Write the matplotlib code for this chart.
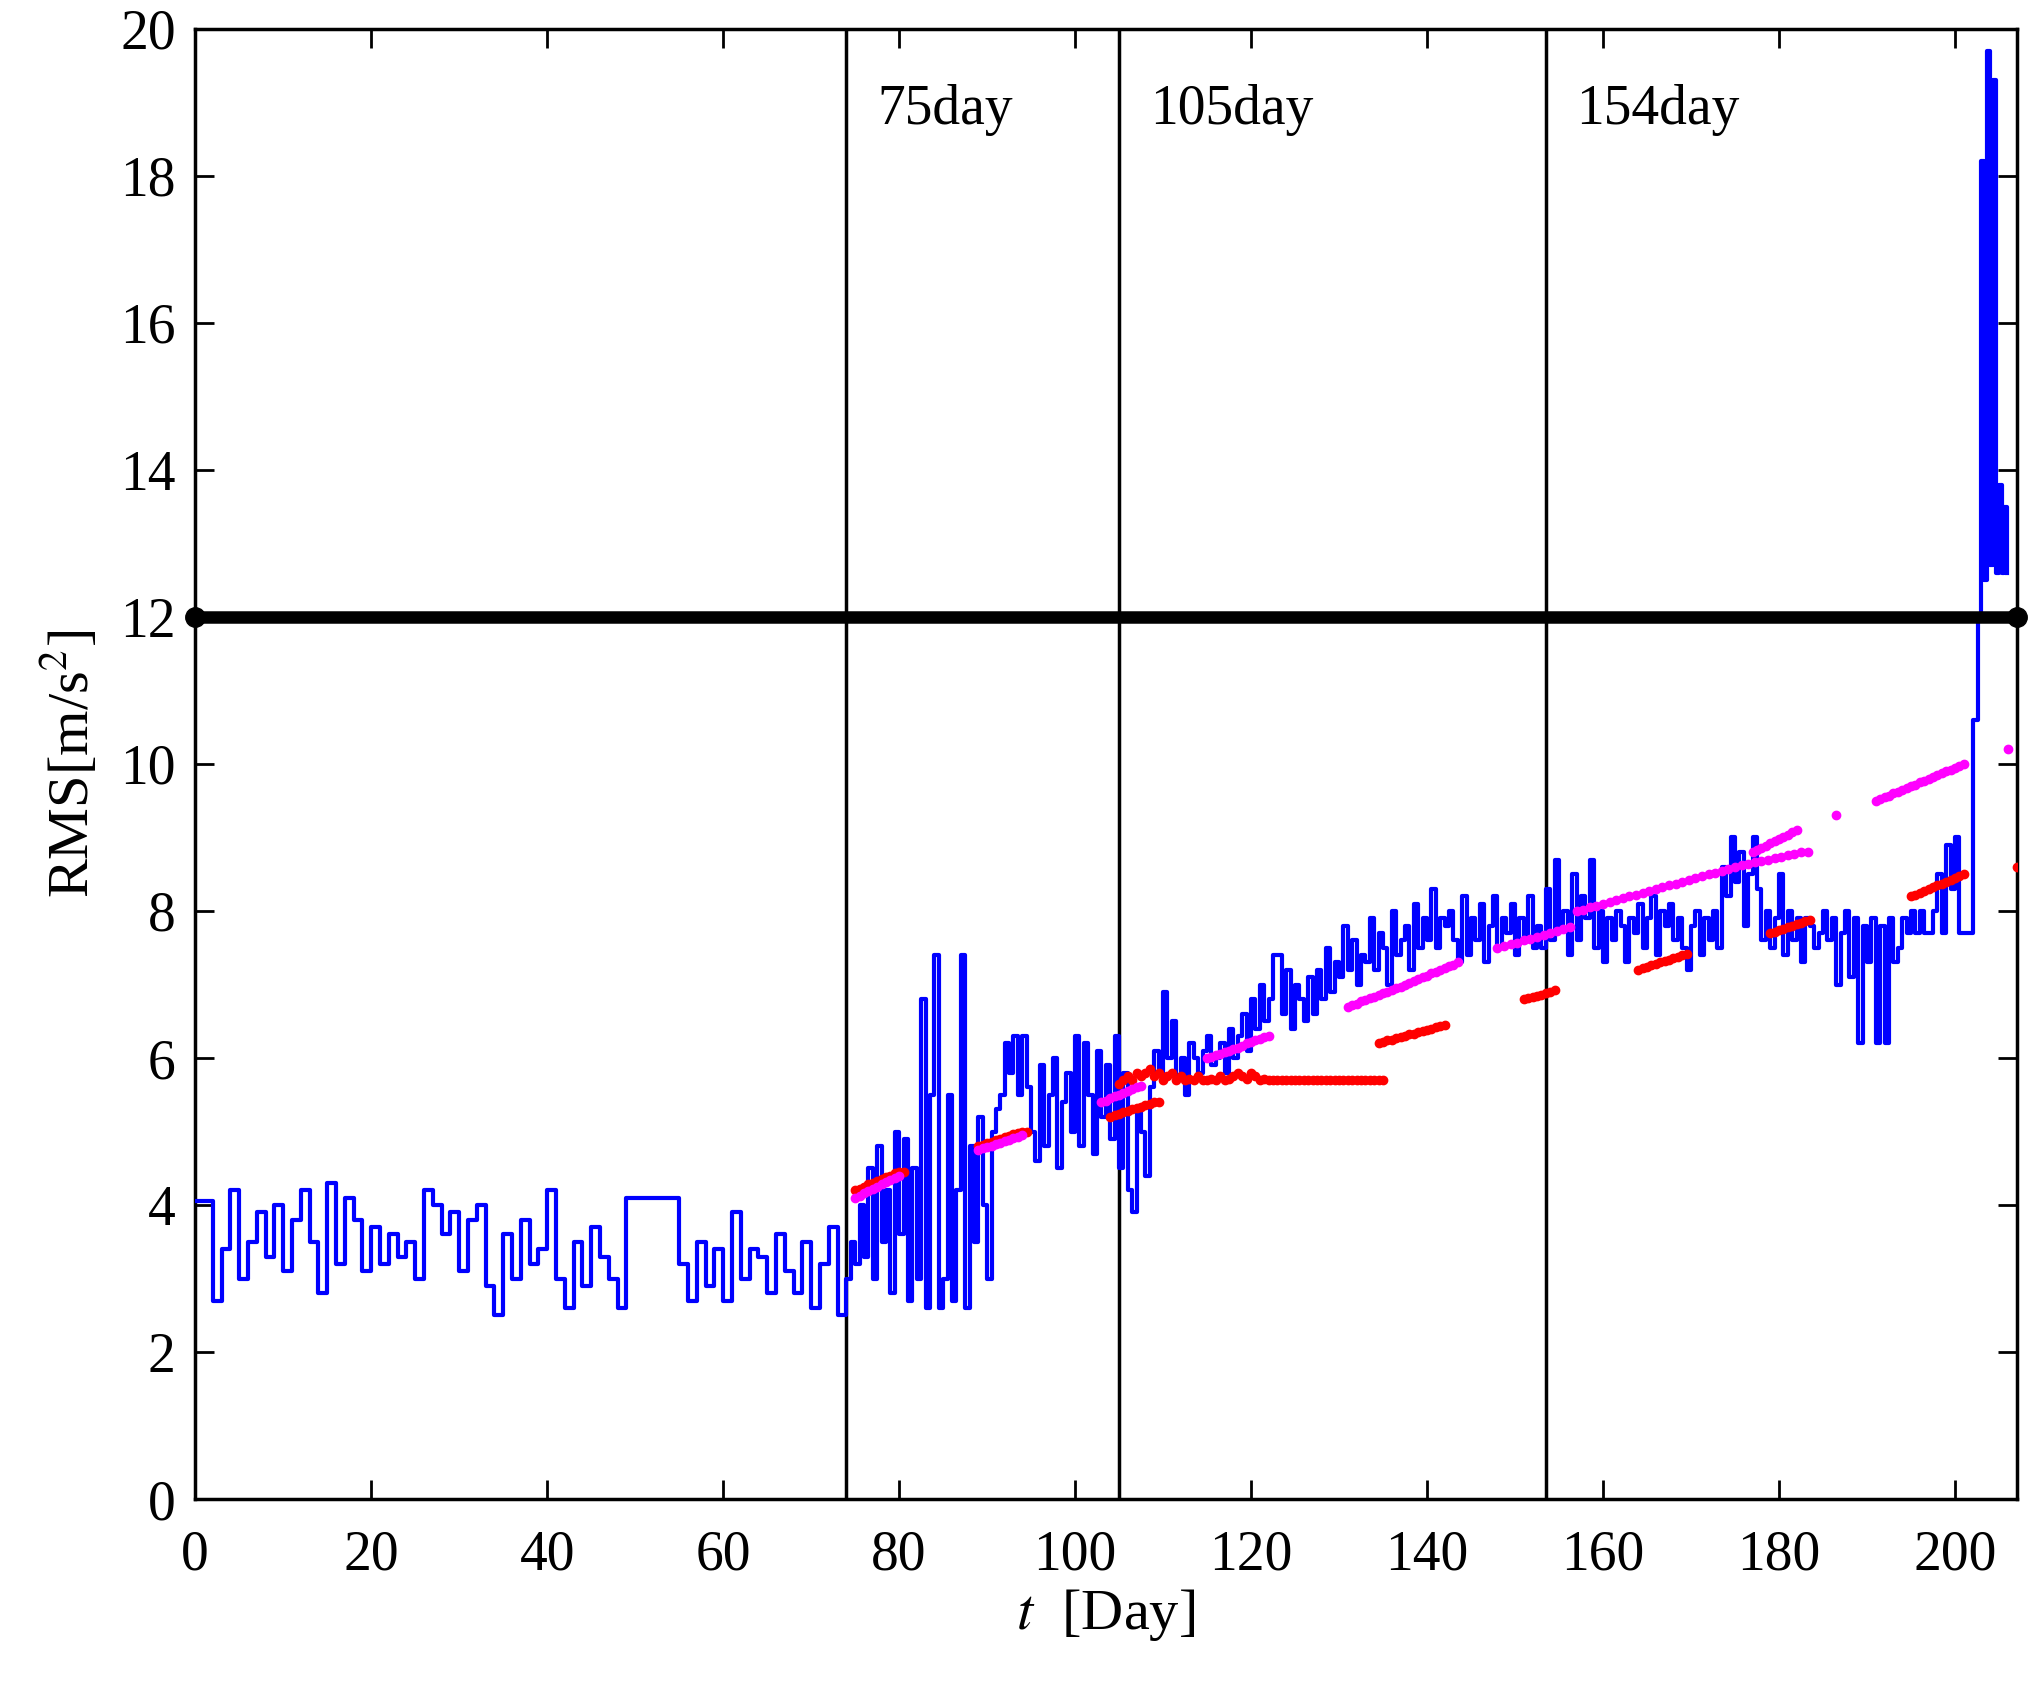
import matplotlib.pyplot as plt
import numpy as np

plt.rcParams['font.family'] = 'Liberation Serif'
plt.rcParams['mathtext.fontset'] = 'stix'

# blue RMS trace, stored as (start day, step, values)
blue_segments = [
    (0.0, 1.0, [4.05, 4.05, 2.7, 3.4, 4.2, 3.0, 3.5, 3.9, 3.3, 4.0, 3.1, 3.8, 4.2, 3.5, 2.8, 4.3,
                3.2, 4.1, 3.8, 3.1, 3.7, 3.2, 3.6, 3.3, 3.5, 3.0, 4.2, 4.0, 3.6, 3.9, 3.1, 3.8,
                4.0, 2.9, 2.5, 3.6, 3.0, 3.8, 3.2, 3.4, 4.2, 3.0, 2.6, 3.5, 2.9, 3.7, 3.3, 3.0,
                2.6, 4.1, 4.1, 4.1, 4.1, 4.1, 4.1, 3.2, 2.7, 3.5, 2.9, 3.4, 2.7, 3.9, 3.0, 3.4,
                3.3, 2.8, 3.6, 3.1, 2.8, 3.5, 2.6, 3.2, 3.7, 2.5]),
    (74.0, 0.5, [3.0, 3.5, 3.2, 4.0, 3.3, 4.5, 3.0, 4.8, 3.5, 4.2, 2.8, 5.0, 3.6, 4.9, 2.7, 4.5,
                 3.0, 6.8, 2.6, 5.5, 7.4, 2.6, 3.0, 5.5, 2.7, 4.2, 7.4, 2.6, 4.8, 3.5, 5.2, 4.0,
                 3.0, 5.0, 5.3, 5.5, 6.2, 5.8, 6.3, 5.5, 6.3, 5.6, 5.0, 4.6, 5.9, 4.8, 5.5, 6.0,
                 4.5, 5.4, 5.8, 5.0, 6.3, 4.8, 6.2, 5.5, 4.7, 6.1, 5.2, 5.9, 4.9, 6.3]),
    (105.0, 0.5, [4.5, 5.8, 4.2, 3.9, 5.3, 5.0, 4.4, 5.6, 6.1, 5.8, 6.9, 6.0, 6.5, 5.7, 6.0, 5.5,
                  6.2, 6.0, 5.8, 6.1, 6.3, 5.9, 6.0, 6.2, 5.8, 6.4, 6.0, 6.3, 6.6, 6.1, 6.8, 6.4,
                  7.0, 6.5, 6.8, 7.4, 7.4, 6.6, 7.2, 6.4, 7.0, 6.8, 6.5, 7.1, 6.6, 7.2, 6.8, 7.5,
                  6.9, 7.3, 7.1, 7.8, 7.2, 7.6, 7.0, 7.4, 7.3, 7.9, 7.2, 7.7, 7.5, 7.0, 8.0, 7.4,
                  7.6, 7.8, 7.2, 8.1, 7.5, 7.9, 7.6, 8.3, 7.5, 7.9, 7.8, 8.0, 7.6, 7.3, 8.2, 7.4,
                  7.9, 7.6, 8.1, 7.3, 7.8, 8.2, 7.5, 7.9, 7.7, 8.1, 7.4, 7.9, 7.6, 8.2, 7.5, 7.8]),
    (153.0, 0.5, [7.5, 8.3, 7.6, 8.7, 7.8, 8.0, 7.4, 8.5, 7.6, 8.2, 7.9, 8.7, 7.5, 8.0, 7.3, 7.9,
                  7.6, 8.0, 7.8, 7.3, 7.9, 7.7, 8.1, 7.5, 7.9, 8.2, 7.4, 8.0, 7.8, 8.1, 7.6, 7.9,
                  7.5, 7.2, 7.8, 8.0, 7.4, 7.9, 7.6, 8.0, 7.5, 8.6, 8.2, 9.0, 8.4, 8.8, 7.8, 8.5,
                  9.0, 8.3, 7.6, 8.0, 7.5, 7.9, 8.5, 7.4, 8.0, 7.6, 7.9, 7.3, 7.9, 7.8, 7.5, 7.7,
                  8.0, 7.6, 7.9, 7.0, 7.7, 8.0, 7.1, 7.9, 6.2, 7.8, 7.3, 7.9, 6.2, 7.8, 6.2, 7.9,
                  7.3, 7.5, 7.9, 7.7, 8.0, 7.7, 8.0, 7.7, 7.7, 8.0, 8.5, 7.7, 8.9, 8.3, 9.0, 7.7,
                  7.7, 7.7]),
    (202.0, 0.33, [10.6, 10.6, 12.0, 18.2, 12.5, 19.7, 12.7, 19.3, 12.6, 13.8, 12.6, 13.5, 12.6]),
]

red_segments = [
    (75.0, 0.5, [4.2, 4.22, 4.25, 4.28, 4.3, 4.33, 4.36, 4.38, 4.4, 4.43, 4.45, 4.45]),
    (89.0, 0.5, [4.8, 4.82, 4.84, 4.86, 4.88, 4.9, 4.92, 4.94, 4.96, 4.98, 5.0, 5.0]),
    (104.0, 0.5, [5.2, 5.22, 5.24, 5.26, 5.28, 5.3, 5.32, 5.34, 5.36, 5.38, 5.4, 5.4]),
    (105.0, 0.5, [5.65, 5.7, 5.75, 5.7, 5.8, 5.75, 5.8, 5.85, 5.75, 5.8, 5.7, 5.75, 5.8, 5.7,
                  5.75, 5.7, 5.72, 5.7, 5.75, 5.7]),
    (115.0, 0.5, [5.7, 5.72, 5.7, 5.75, 5.7, 5.72, 5.75, 5.8, 5.75, 5.72, 5.8, 5.75, 5.7, 5.72,
                  5.7, 5.7, 5.7, 5.7, 5.7, 5.7, 5.7, 5.7, 5.7, 5.7, 5.7, 5.7, 5.7, 5.7, 5.7, 5.7,
                  5.7, 5.7, 5.7, 5.7, 5.7, 5.7, 5.7, 5.7, 5.7, 5.7, 5.7]),
    (134.5, 0.5, [6.2, 6.22, 6.24, 6.25, 6.27, 6.29, 6.3, 6.32, 6.33, 6.35, 6.37, 6.38, 6.4,
                  6.42, 6.43, 6.45]),
    (151.0, 0.5, [6.8, 6.82, 6.83, 6.85, 6.86, 6.88, 6.9, 6.92]),
    (164.0, 0.5, [7.2, 7.22, 7.24, 7.26, 7.28, 7.3, 7.32, 7.34, 7.36, 7.38, 7.4, 7.42]),
    (179.0, 0.5, [7.7, 7.72, 7.74, 7.76, 7.78, 7.8, 7.82, 7.84, 7.86, 7.88]),
    (195.0, 0.5, [8.2, 8.22, 8.25, 8.27, 8.3, 8.32, 8.35, 8.37, 8.4, 8.42, 8.45, 8.47, 8.5]),
    (207.0, 0.5, [8.6]),
]

magenta_segments = [
    (75.0, 0.5, [4.1, 4.13, 4.16, 4.19, 4.22, 4.25, 4.28, 4.31, 4.34, 4.37, 4.4]),
    (89.0, 0.5, [4.75, 4.77, 4.79, 4.81, 4.83, 4.85, 4.87, 4.89, 4.91, 4.93, 4.95]),
    (103.0, 0.5, [5.4, 5.42, 5.45, 5.48, 5.5, 5.53, 5.55, 5.58, 5.6, 5.62]),
    (115.0, 0.5, [6.0, 6.02, 6.04, 6.06, 6.08, 6.1, 6.12, 6.14, 6.17, 6.2, 6.22, 6.24, 6.26,
                  6.28, 6.3]),
    (131.0, 0.5, [6.7, 6.72, 6.74, 6.77, 6.79, 6.81, 6.83, 6.86, 6.88, 6.9, 6.92, 6.95, 6.97,
                  7.0, 7.02, 7.05, 7.07, 7.1, 7.12, 7.15, 7.17, 7.2, 7.22, 7.25, 7.27, 7.3]),
    (148.0, 0.75, [7.5, 7.52, 7.55, 7.57, 7.6, 7.62, 7.65, 7.68, 7.7, 7.73, 7.75, 7.78, 8.0,
                   8.02, 8.05, 8.07, 8.1, 8.12, 8.15, 8.17, 8.2, 8.22, 8.25, 8.27, 8.3, 8.32,
                   8.35, 8.37, 8.4, 8.42, 8.45, 8.47, 8.5, 8.52, 8.55, 8.57, 8.6, 8.62, 8.64,
                   8.66, 8.68, 8.7, 8.72, 8.74, 8.76, 8.78, 8.8, 8.8]),
    (177.0, 0.5, [8.8, 8.83, 8.86, 8.89, 8.92, 8.95, 8.98, 9.01, 9.04, 9.07, 9.1]),
    (186.5, 0.5, [9.3]),
    (191.0, 0.5, [9.5, 9.52, 9.55, 9.57, 9.6, 9.62, 9.65, 9.67, 9.7, 9.72, 9.75, 9.77, 9.8,
                  9.82, 9.85, 9.87, 9.9, 9.92, 9.95, 9.97, 10.0]),
    (206.0, 0.5, [10.2]),
]

event_days = [74, 105, 153.5]
event_labels = ['75day', '105day', '154day']
threshold = 12


def unpack(segments):
    ts, vs = [], []
    for start, step, vals in segments:
        ts.extend(start + step * np.arange(len(vals)))
        vs.extend(vals)
    return np.array(ts), np.array(vs)


fig = plt.figure(figsize=(20.4, 16.89), dpi=100)
ax = fig.add_axes([0.0957, 0.1124, 0.8928, 0.8706])

bt, bv = unpack(blue_segments)
ax.step(bt, bv, where='post', color='#0000ff', lw=3, zorder=3)
rt, rv = unpack(red_segments)
ax.plot(rt, rv, 'o', color='#ff0000', ms=6, zorder=4)
mt, mv = unpack(magenta_segments)
ax.plot(mt, mv, 'o', color='#ff00ff', ms=6, zorder=4)

ax.axhline(threshold, color='black', lw=9, zorder=5)
ax.plot([0, 207], [threshold, threshold], 'o', color='black', ms=14, clip_on=False, zorder=6)
for d, lab in zip(event_days, event_labels):
    ax.axvline(d, color='black', lw=2.5, zorder=2)
    ax.text(d + 3.5, 18.9, lab, fontsize=40, va='center', ha='left')

ax.set_xlim(0, 207)
ax.set_ylim(0, 20)
ax.set_xticks(np.arange(0, 201, 20))
ax.set_yticks(np.arange(0, 21, 2))
ax.tick_params(direction='in', length=14, width=2, labelsize=40, top=True, right=True)
ax.tick_params(axis='x', pad=22)
ax.tick_params(axis='y', pad=14)
for s in ax.spines.values():
    s.set_linewidth(2.5)
ax.set_xlabel(r'$t$  [Day]', fontsize=42, labelpad=4)
ax.set_ylabel(r'RMS[m/s$^2$]', fontsize=42, labelpad=14)

fig.savefig('out.png', dpi=100)
